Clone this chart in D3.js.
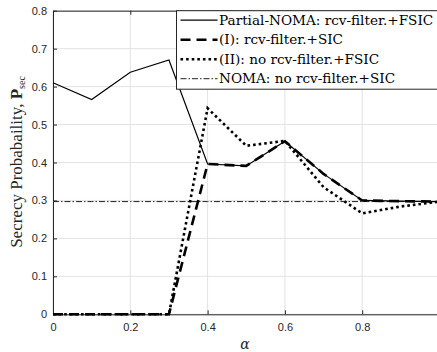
<!DOCTYPE html>
<html>
<head>
<meta charset="utf-8">
<script src="https://cdn.jsdelivr.net/npm/d3@7"></script>
<style>
  body { margin: 0; background: #fff; }
  svg { display: block; }
</style>
</head>
<body>
<div id="chart"></div>
<script>
// data
const alpha = [0, 0.1, 0.2, 0.3, 0.4, 0.5, 0.6, 0.7, 0.8, 0.9, 1.0];
const partialNoma = [0.61, 0.566, 0.638, 0.67, 0.396, 0.391, 0.456, 0.37, 0.3, 0.298, 0.297];
const caseI = [0, 0, 0, 0, 0.396, 0.391, 0.456, 0.37, 0.3, 0.298, 0.297];
const caseII = [0, 0, 0, 0, 0.543, 0.444, 0.457, 0.335, 0.266, 0.284, 0.297];
const noma = [0.297, 0.297, 0.297, 0.297, 0.297, 0.297, 0.297, 0.297, 0.297, 0.297, 0.297];
const xTicks = [0, 0.2, 0.4, 0.6, 0.8, 1];
const yTicks = [0, 0.1, 0.2, 0.3, 0.4, 0.5, 0.6, 0.7, 0.8];
const legendLabels = [
  "Partial-NOMA: rcv-filter.+FSIC",
  "(I): rcv-filter.+SIC",
  "(II): no rcv-filter.+FSIC",
  "NOMA: no rcv-filter.+SIC"
];

const W = 437, H = 352;
const margin = {top: 10.7, left: 53, right: -2.5, bottom: 37.7};
const width = W - margin.left - margin.right,
      height = H - margin.top - margin.bottom;

const svg = d3.select("#chart").append("svg")
    .attr("width", W).attr("height", H);
const g = svg.append("g")
    .attr("transform", `translate(${margin.left},${margin.top})`);

const x = d3.scaleLinear().domain([0, 1]).range([0, width]);
const y = d3.scaleLinear().domain([0, 0.8]).range([height, 0]);

// grid
g.append("g").selectAll("line").data(xTicks).enter().append("line")
    .attr("x1", d => x(d)).attr("x2", d => x(d))
    .attr("y1", 0).attr("y2", height)
    .attr("stroke", "#e3e3e3").attr("stroke-width", 1);
g.append("g").selectAll("line").data(yTicks).enter().append("line")
    .attr("x1", 0).attr("x2", width)
    .attr("y1", d => y(d)).attr("y2", d => y(d))
    .attr("stroke", "#e3e3e3").attr("stroke-width", 1);

// axes (the "1" label falls outside the cropped picture)
const fmt = d => d === 0 ? "0" : (d === 1 ? "" : d3.format(".1f")(d));
const xAxis = g.append("g")
    .attr("transform", `translate(0,${height})`)
    .call(d3.axisBottom(x).tickValues(xTicks).tickFormat(fmt).tickSizeInner(-4).tickSizeOuter(0).tickPadding(9));
const yAxis = g.append("g")
    .call(d3.axisLeft(y).tickValues(yTicks).tickFormat(fmt).tickSizeInner(-4).tickSizeOuter(0).tickPadding(6));
const xTop = g.append("g")
    .call(d3.axisTop(x).tickValues(xTicks).tickFormat("").tickSizeInner(-4).tickSizeOuter(0));
[xAxis, yAxis, xTop].forEach(a => {
  a.selectAll("path").attr("stroke", "#262626").attr("stroke-width", 1);
  a.selectAll("line").attr("stroke", "#262626");
  a.selectAll("text").attr("fill", "#262626")
    .style("font-family", "Liberation Sans, Arial, sans-serif").style("font-size", "11px");
});

// series
const styles = [
  {data: partialNoma, width: 1.2, dash: null, color: "#000"},
  {data: caseI, width: 2.6, dash: "10,6", color: "#000"},
  {data: caseII, width: 2.6, dash: "2.6,3", color: "#000"},
  {data: noma, width: 1, dash: "6,2,1.5,2", color: "#222"}
];
const line = d3.line().x((d, i) => x(alpha[i])).y(d => y(d));

// draw bottom to top: noma, II, I, partial
[3, 2, 1, 0].forEach(k => {
  const s = styles[k];
  g.append("path").datum(s.data)
    .attr("d", line)
    .attr("fill", "none")
    .attr("stroke", s.color)
    .attr("stroke-width", s.width)
    .attr("stroke-dasharray", s.dash);
});

// legend
const lg = svg.append("g").attr("transform", "translate(176.5,10.7)");
lg.append("rect").attr("x", 0).attr("y", 0).attr("width", 265).attr("height", 78.5)
  .attr("fill", "#fff").attr("stroke", "#262626").attr("stroke-width", 1);
legendLabels.forEach((lab, i) => {
  const yy = 9.5 + i * 19.5;
  const s = styles[i];
  lg.append("line").attr("x1", 4).attr("x2", 41).attr("y1", yy).attr("y2", yy)
    .attr("stroke", s.color).attr("stroke-width", s.width)
    .attr("stroke-dasharray", s.dash);
  lg.append("text").attr("x", 42.5).attr("y", yy + 4.8)
    .text(lab)
    .style("font-family", "DejaVu Serif, Liberation Serif, serif")
    .style("font-size", "13.6px").attr("fill", "#000");
});

// axis labels
const yl = svg.append("text")
  .attr("transform", "translate(22,162) rotate(-90)")
  .attr("text-anchor", "middle")
  .style("font-family", "Liberation Serif, serif")
  .style("font-size", "17px").attr("fill", "#262626");
yl.append("tspan").text("Secrecy Probabaility, ");
yl.append("tspan").text("P").style("font-weight", "bold");
yl.append("tspan").text("sec").attr("dy", 3).style("font-size", "10px");

svg.append("text")
  .attr("x", 245).attr("y", 349)
  .attr("text-anchor", "middle")
  .style("font-family", "DejaVu Serif, Liberation Serif, serif")
  .style("font-style", "italic")
  .style("font-size", "14px").attr("fill", "#262626")
  .text("α");
</script>
</body>
</html>
